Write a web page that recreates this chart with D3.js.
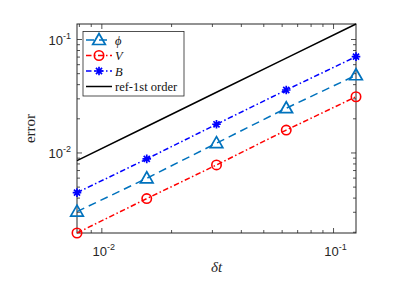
<!DOCTYPE html>
<html>
<head>
<meta charset="utf-8">
<script src="https://cdn.jsdelivr.net/npm/d3@7"></script>
<style>
  body { margin: 0; background: #fff; }
  svg { display: block; }
</style>
</head>
<body>
<div id="chart"></div>
<script>
// time steps and errors
var dt = [1 / 128, 1 / 64, 1 / 32, 1 / 16, 1 / 8];
var errPhi = [0.00304, 0.00598, 0.0122, 0.0248, 0.0484];
var errV = [0.00197, 0.00396, 0.00784, 0.0159, 0.0313];
var errB = [0.00447, 0.00886, 0.0179, 0.0359, 0.0706];
var errRef = [0.00856, 0.0171, 0.0343, 0.0685, 0.137];
var xTicks = [0.01, 0.1];
var yTicks = [0.01, 0.1];
var tickLabels = ['-2', '-1'];

var fullWidth = 394, fullHeight = 296;
var margin = { top: 24, right: 38, bottom: 63, left: 77 };
var width = fullWidth - margin.left - margin.right;
var height = fullHeight - margin.top - margin.bottom;

var svg = d3.select('#chart').append('svg')
    .attr('width', fullWidth)
    .attr('height', fullHeight);

var g = svg.append('g')
    .attr('transform', 'translate(' + margin.left + ',' + margin.top + ')');

var x = d3.scaleLog().domain([dt[0], dt[dt.length - 1]]).range([0, width]);
var y = d3.scaleLog().domain([errV[0], errRef[errRef.length - 1]]).range([height, 0]);

var axisColor = '#262626';

// minor tick values on a log axis inside the domain
function logTicks(scale) {
    var dom = scale.domain(), out = [];
    for (var e = -4; e <= 0; e++) {
        for (var m = 1; m <= 9; m++) {
            var v = m * Math.pow(10, e);
            if (v >= dom[0] * 0.9999 && v <= dom[1] * 1.0001) out.push({ v: v, major: m == 1 });
        }
    }
    return out;
}

// ticks on all four sides, pointing in
var tickG = g.append('g').attr('stroke', axisColor).attr('stroke-width', 0.8);
logTicks(x).forEach(function (t) {
    var len = t.major ? 5 : 3;
    tickG.append('line').attr('x1', x(t.v)).attr('x2', x(t.v)).attr('y1', height).attr('y2', height - len);
    tickG.append('line').attr('x1', x(t.v)).attr('x2', x(t.v)).attr('y1', 0).attr('y2', len);
});
logTicks(y).forEach(function (t) {
    var len = t.major ? 5 : 3;
    tickG.append('line').attr('y1', y(t.v)).attr('y2', y(t.v)).attr('x1', 0).attr('x2', len);
    tickG.append('line').attr('y1', y(t.v)).attr('y2', y(t.v)).attr('x1', width).attr('x2', width - len);
});

g.append('rect')
    .attr('width', width)
    .attr('height', height)
    .attr('fill', 'none')
    .attr('stroke', axisColor)
    .attr('stroke-width', 1);

// tick labels like 10^-2
function powLabel(sel, px, py, anchor, exp) {
    var t = sel.append('text')
        .attr('x', px).attr('y', py)
        .attr('text-anchor', anchor)
        .style('font-family', 'Liberation Sans, Arial, sans-serif')
        .style('font-size', '13px')
        .attr('fill', axisColor);
    t.append('tspan').text('10');
    t.append('tspan').attr('dy', -6).style('font-size', '9px').text(exp);
}
xTicks.forEach(function (v, i) {
    powLabel(g, x(v) + 2, height + 23, 'middle', tickLabels[i]);
});
yTicks.forEach(function (v, i) {
    powLabel(g, -6, y(v) + 5, 'end', tickLabels[i]);
});

// axis titles
g.append('text')
    .attr('x', width / 2)
    .attr('y', height + 39)
    .attr('text-anchor', 'middle')
    .style('font-family', 'Liberation Serif, Times New Roman, serif')
    .style('font-style', 'italic')
    .style('font-size', '15px')
    .attr('fill', axisColor)
    .text('δt');

g.append('text')
    .attr('transform', 'translate(-42,' + height / 2 + ')rotate(-90)')
    .attr('text-anchor', 'middle')
    .style('font-family', 'Liberation Serif, Times New Roman, serif')
    .style('font-size', '15px')
    .attr('fill', axisColor)
    .text('error');

// series
var series = [
    { name: 'phi', values: errPhi, color: '#0072BD', dash: '8,5', marker: 'triangle' },
    { name: 'V', values: errV, color: '#FF0000', dash: '5.5,2.5,1.5,2.5', marker: 'circle' },
    { name: 'B', values: errB, color: '#0000FF', dash: '5.5,2.5,1.5,2.5', marker: 'star' },
    { name: 'ref', values: errRef, color: '#000000', dash: null, marker: null }
];

function drawMarker(sel, type, color) {
    if (type == 'triangle') {
        sel.append('path').attr('d', 'M0,-6.5L6.3,4.5L-6.3,4.5Z')
            .attr('fill', 'none').attr('stroke', color).attr('stroke-width', 1.7);
    } else if (type == 'circle') {
        sel.append('circle').attr('r', 4.7)
            .attr('fill', 'none').attr('stroke', color).attr('stroke-width', 1.6);
    } else if (type == 'star') {
        var r = 4.3, d = r * 0.7071;
        sel.append('path')
            .attr('d', 'M' + -r + ',0L' + r + ',0M0,' + -r + 'L0,' + r +
                'M' + -d + ',' + -d + 'L' + d + ',' + d + 'M' + -d + ',' + d + 'L' + d + ',' + -d)
            .attr('fill', 'none').attr('stroke', color).attr('stroke-width', 1.7);
    }
}

var line = d3.line()
    .x(function (d) { return x(d[0]); })
    .y(function (d) { return y(d[1]); });

series.forEach(function (s) {
    var pts = dt.map(function (t, i) { return [t, s.values[i]]; });
    g.append('path')
        .datum(pts)
        .attr('d', line)
        .attr('fill', 'none')
        .attr('stroke', s.color)
        .attr('stroke-width', 1.5)
        .attr('stroke-dasharray', s.dash);
    if (s.marker) {
        pts.forEach(function (p) {
            var m = g.append('g').attr('transform', 'translate(' + x(p[0]) + ',' + y(p[1]) + ')');
            drawMarker(m, s.marker, s.color);
        });
    }
});

// legend
var legend = g.append('g').attr('transform', 'translate(6,7.5)');
legend.append('rect')
    .attr('width', 101)
    .attr('height', 64.5)
    .attr('fill', '#fff')
    .attr('stroke', axisColor)
    .attr('stroke-width', 0.8);

var labels = ['ϕ', 'V', 'B', 'ref-1st order'];
series.forEach(function (s, i) {
    var row = legend.append('g').attr('transform', 'translate(0,' + (8.5 + i * 15.5) + ')');
    row.append('line')
        .attr('x1', 3).attr('x2', 29)
        .attr('stroke', s.color)
        .attr('stroke-width', 1.5)
        .attr('stroke-dasharray', s.dash);
    if (s.marker) {
        var m = row.append('g').attr('transform', 'translate(16,0)');
        drawMarker(m, s.marker, s.color);
    }
    row.append('text')
        .attr('x', 32)
        .attr('y', 4.5)
        .style('font-family', 'Liberation Serif, Times New Roman, serif')
        .style('font-style', i < 3 ? 'italic' : 'normal')
        .style('font-size', '12.5px')
        .attr('fill', '#111')
        .text(labels[i]);
});
</script>
</body>
</html>
